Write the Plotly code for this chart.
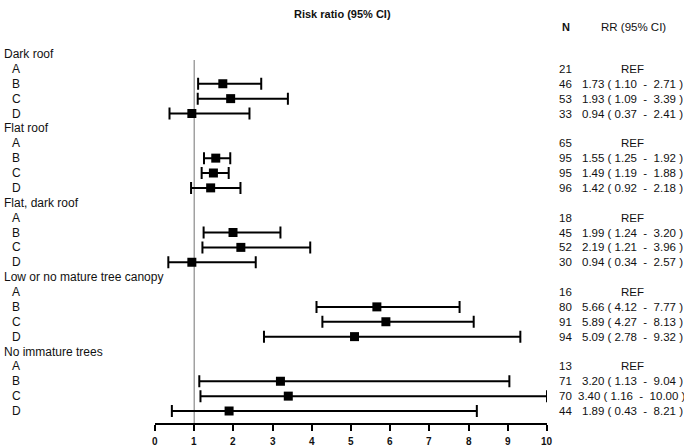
import plotly.graph_objects as go

groups = ["Dark roof", "Flat roof", "Flat, dark roof", "Low or no mature tree canopy", "No immature trees"]
levels = ["A", "B", "C", "D"]
n_vals = [
    [21, 46, 53, 33],
    [65, 95, 95, 96],
    [18, 45, 52, 30],
    [16, 80, 91, 94],
    [13, 71, 70, 44],
]
rr_vals = [
    [None, 1.73, 1.93, 0.94],
    [None, 1.55, 1.49, 1.42],
    [None, 1.99, 2.19, 0.94],
    [None, 5.66, 5.89, 5.09],
    [None, 3.20, 3.40, 1.89],
]
lo_vals = [
    [None, 1.10, 1.09, 0.37],
    [None, 1.25, 1.19, 0.92],
    [None, 1.24, 1.21, 0.34],
    [None, 4.12, 4.27, 2.78],
    [None, 1.13, 1.16, 0.43],
]
hi_vals = [
    [None, 2.71, 3.39, 2.41],
    [None, 1.92, 1.88, 2.18],
    [None, 3.20, 3.96, 2.57],
    [None, 7.77, 8.13, 9.32],
    [None, 9.04, 10.00, 8.21],
]
x_ticks = list(range(0, 11))

W, H = 684, 447
L, R = 155, 547          # plot x extent in px
row0_px, row_step = 54, 14.875
top_px, bottom_px = 40, 423
y_top = -(row0_px - top_px) / row_step
y_bot = (bottom_px - row0_px) / row_step

def px_x(p):
    return (p - L) / (R - L)

def px_y(p):
    return 1 + (top_px - p) / (bottom_px - top_px)

xs, ys, ex_p, ex_m = [], [], [], []
annotations = []
font = "Liberation Sans, Arial, sans-serif"
tf = dict(size=12, color="#111", family=font)
rf = dict(size=11.5, color="#111", family=font)
row = 0
for gi, g in enumerate(groups):
    annotations.append(dict(x=px_x(2), y=row, xref="paper", yref="y", text=g, showarrow=False,
                            xanchor="left", yanchor="middle", font=tf))
    row += 1
    for li, lv in enumerate(levels):
        annotations.append(dict(x=px_x(10), y=row, xref="paper", yref="y", text=lv, showarrow=False,
                                xanchor="left", yanchor="middle", font=tf))
        annotations.append(dict(x=px_x(565), y=row, xref="paper", yref="y", text=str(n_vals[gi][li]),
                                showarrow=False, xanchor="center", yanchor="middle", font=rf))
        r = rr_vals[gi][li]
        if r is None:
            txt = "REF"
        else:
            lo, hi = lo_vals[gi][li], hi_vals[gi][li]
            txt = f"{r:.2f} ( {lo:.2f}  -  {hi:.2f} )"
            xs.append(r); ys.append(row)
            ex_p.append(hi - r); ex_m.append(r - lo)
        annotations.append(dict(x=px_x(632), y=row, xref="paper", yref="y", text=txt, showarrow=False,
                                xanchor="center", yanchor="middle", font=rf))
        row += 1

# headers
annotations.append(dict(x=px_x(342), y=px_y(14), xref="paper", yref="paper",
                        text="<b>Risk ratio (95% CI)</b>", showarrow=False, xanchor="center", yanchor="middle",
                        font=dict(size=11, color="#111", family=font)))
annotations.append(dict(x=px_x(566), y=px_y(27), xref="paper", yref="paper",
                        text="<b>N</b>", showarrow=False, xanchor="center", yanchor="middle",
                        font=dict(size=11, color="#111", family=font)))
annotations.append(dict(x=px_x(633), y=px_y(27), xref="paper", yref="paper",
                        text="RR (95% CI)", showarrow=False, xanchor="center", yanchor="middle",
                        font=rf))
# x tick labels
for t in x_ticks:
    annotations.append(dict(x=t, y=px_y(442), xref="x", yref="paper", text=f"<b>{t}</b>",
                            showarrow=False, xanchor="center", yanchor="middle",
                            font=dict(size=10, color="#111", family=font)))

fig = go.Figure()
fig.add_trace(go.Scatter(
    x=xs, y=ys, mode="markers",
    marker=dict(symbol="square", size=9, color="black"),
    error_x=dict(type="data", symmetric=False, array=ex_p, arrayminus=ex_m,
                 color="black", thickness=2, width=6),
    cliponaxis=False, showlegend=False, hoverinfo="skip",
))

fig.add_shape(type="line", x0=1, x1=1, y0=(60 - row0_px) / row_step, y1=y_bot,
              xref="x", yref="y", line=dict(color="#8a8a8a", width=1.2), layer="below")

fig.update_layout(
    width=W, height=H,
    margin=dict(l=L, r=W - R, t=top_px, b=H - bottom_px, pad=0),
    plot_bgcolor="white", paper_bgcolor="white",
    annotations=annotations,
    xaxis=dict(range=[0, 10], tickvals=x_ticks, showticklabels=False,
               showgrid=False, zeroline=False, showline=True, linecolor="black", linewidth=1.5,
               ticks="outside", ticklen=6, tickwidth=1.5, tickcolor="black"),
    yaxis=dict(range=[y_bot, y_top], visible=False, showgrid=False, zeroline=False),
)

fig.write_html("out.html", config={"displayModeBar": False},
               post_script="document.body.style.margin='0';document.body.style.padding='0';")
